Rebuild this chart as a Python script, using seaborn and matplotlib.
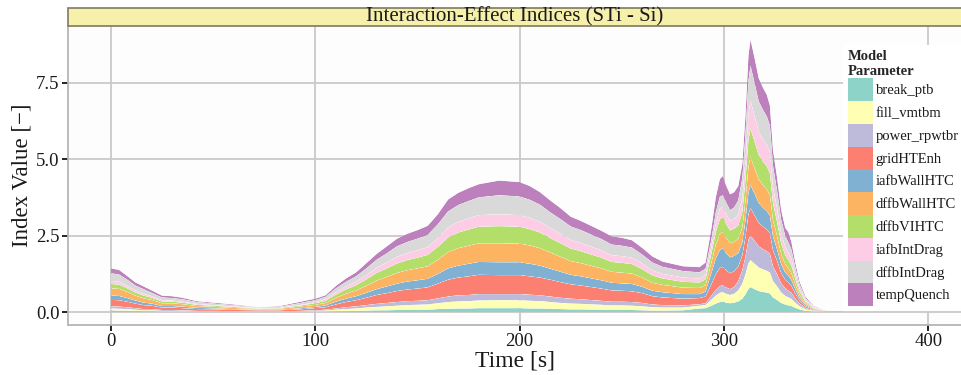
import matplotlib
matplotlib.use("Agg")
import matplotlib.pyplot as plt
from matplotlib.patches import Patch, Rectangle
import pandas as pd
import seaborn as sns
import seaborn.objects as so

# Time axis [s]
time_s = [0, 4, 8, 12, 16, 20, 25, 30, 35, 42,
          52, 62, 72, 82, 92, 100, 105, 110, 115, 120,
          125, 130, 135, 140, 145, 150, 155, 160, 165, 170,
          175, 180, 190, 200, 205, 210, 215, 220, 225, 230,
          240, 245, 250, 255, 260, 265, 270, 280, 288, 291,
          294, 296, 298, 299.5, 301, 303, 305, 307, 309, 310.5,
          312, 313, 315, 317, 319, 321, 322.5, 324, 326, 328,
          330, 331.5, 333, 335, 337, 340, 344, 350, 358]

# Interaction-effect index (STi - Si) per model parameter
break_ptb = [.06, .05, .05, .04, .03, .03, .02, .02, .02, .01,
             .01, .01, .01, .01, .01, .02, .02, .03, .03, .04,
             .05, .06, .06, .07, .08, .08, .08, .10, .11, .12,
             .12, .13, .13, .13, .12, .12, .11, .10, .09, .09,
             .08, .07, .07, .07, .06, .05, .05, .06, .12, .13,
             .21, .28, .33, .34, .31, .29, .31, .35, .44, .58,
             .76, .82, .75, .69, .66, .64, .61, .48, .40, .30,
             .25, .22, .20, .14, .09, .04, .02, .01, .00]
fill_vmtbm = [.06, .06, .05, .04, .03, .03, .02, .02, .02, .01,
              .01, .01, .01, .01, .01, .02, .03, .05, .07, .08,
              .10, .11, .13, .14, .15, .16, .17, .19, .22, .23,
              .24, .25, .26, .26, .25, .24, .22, .20, .19, .18,
              .16, .15, .15, .14, .13, .11, .10, .09, .09, .10,
              .20, .26, .30, .32, .29, .27, .29, .36, .49, .64,
              .84, .88, .83, .77, .74, .71, .68, .53, .44, .34,
              .28, .26, .23, .16, .10, .05, .02, .01, .00]
power_rpwtbr = [.07, .07, .06, .05, .04, .04, .03, .03, .02, .02,
                .02, .01, .01, .01, .02, .02, .03, .04, .06, .07,
                .08, .10, .11, .12, .13, .13, .14, .16, .18, .20,
                .20, .21, .20, .20, .20, .19, .18, .17, .16, .15,
                .13, .12, .12, .12, .11, .09, .08, .07, .05, .06,
                .14, .19, .22, .22, .21, .19, .22, .30, .44, .58,
                .76, .80, .75, .69, .66, .64, .61, .48, .40, .30,
                .25, .22, .20, .14, .09, .05, .02, .00, .00]
gridHTEnh = [.21, .21, .18, .15, .13, .11, .08, .08, .07, .06,
             .05, .04, .03, .03, .05, .07, .08, .13, .17, .20,
             .24, .29, .32, .36, .38, .40, .42, .48, .55, .58,
             .61, .63, .62, .62, .60, .58, .55, .51, .47, .45,
             .40, .37, .36, .35, .32, .27, .25, .22, .20, .22,
             .38, .51, .59, .60, .56, .52, .52, .48, .49, .64,
             .84, .90, .83, .77, .74, .71, .68, .53, .44, .34,
             .28, .27, .23, .16, .10, .05, .02, .01, .01]
iafbWallHTC = [.14, .14, .12, .10, .08, .07, .05, .05, .05, .04,
               .03, .02, .02, .02, .03, .04, .06, .09, .11, .13,
               .16, .19, .22, .24, .26, .27, .28, .32, .37, .39,
               .41, .42, .42, .42, .41, .39, .36, .34, .31, .30,
               .27, .25, .24, .24, .21, .18, .17, .15, .13, .16,
               .38, .51, .59, .61, .56, .52, .50, .44, .41, .54,
               .71, .75, .71, .65, .62, .60, .57, .45, .37, .28,
               .23, .22, .19, .14, .08, .04, .02, .00, .00]
dffbWallHTC = [.24, .23, .20, .16, .14, .12, .09, .09, .08, .06,
               .05, .04, .03, .03, .06, .07, .08, .12, .16, .19,
               .23, .28, .31, .35, .37, .39, .41, .46, .53, .57,
               .59, .61, .62, .61, .60, .57, .53, .49, .45, .43,
               .39, .36, .35, .34, .30, .26, .24, .21, .20, .21,
               .34, .45, .52, .53, .50, .46, .46, .46, .49, .64,
               .84, .92, .83, .77, .74, .71, .68, .53, .44, .34,
               .28, .25, .23, .16, .10, .05, .02, .01, .00]
dffbVIHTC = [.14, .14, .12, .10, .09, .07, .06, .05, .05, .04,
             .03, .03, .01, .02, .03, .05, .07, .11, .14, .17,
             .21, .25, .28, .31, .33, .35, .37, .42, .48, .51,
             .53, .54, .56, .55, .53, .51, .47, .44, .41, .39,
             .35, .32, .32, .31, .27, .24, .21, .19, .18, .19,
             .31, .41, .48, .49, .46, .42, .43, .44, .51, .67,
             .88, .93, .87, .80, .77, .75, .71, .56, .46, .35,
             .29, .26, .24, .17, .11, .05, .02, .00, .00]
iafbIntDrag = [.10, .10, .08, .07, .06, .05, .04, .04, .03, .03,
               .02, .02, .01, .01, .02, .03, .05, .08, .10, .12,
               .14, .17, .19, .22, .23, .24, .25, .29, .33, .35,
               .36, .38, .39, .38, .37, .35, .33, .31, .28, .27,
               .24, .22, .22, .21, .19, .16, .15, .14, .13, .14,
               .22, .30, .35, .33, .33, .31, .32, .36, .48, .64,
               .84, .91, .83, .76, .73, .71, .67, .53, .44, .33,
               .27, .26, .23, .16, .10, .05, .02, .00, .00]
dffbIntDrag = [.25, .23, .20, .16, .15, .11, .09, .08, .08, .06,
               .05, .04, .02, .03, .06, .07, .08, .12, .15, .17,
               .22, .26, .30, .34, .36, .38, .40, .45, .52, .55,
               .57, .58, .62, .61, .59, .56, .51, .48, .44, .42,
               .37, .35, .34, .33, .29, .26, .23, .21, .20, .21,
               .25, .34, .39, .38, .37, .35, .37, .46, .63, .83,
               1.09, 1.14, 1.08, .99, .96, .92, .88, .69, .57, .44,
               .36, .32, .29, .21, .13, .07, .02, .01, .00]
tempQuench = [.16, .15, .12, .10, .09, .08, .06, .06, .05, .03,
              .03, .02, .01, .02, .04, .05, .05, .08, .11, .13,
              .17, .19, .23, .25, .27, .28, .30, .33, .39, .40,
              .42, .43, .48, .47, .45, .41, .39, .36, .32, .30,
              .27, .27, .26, .24, .22, .20, .17, .16, .17, .20,
              .37, .50, .58, .63, .56, .52, .50, .47, .47, .64,
              .84, .85, .82, .76, .73, .71, .66, .52, .44, .33,
              .26, .34, .26, .16, .10, .05, .02, .00, .01]

param_names = ["break_ptb", "fill_vmtbm", "power_rpwtbr", "gridHTEnh",
               "iafbWallHTC", "dffbWallHTC", "dffbVIHTC", "iafbIntDrag",
               "dffbIntDrag", "tempQuench"]
param_values = [break_ptb, fill_vmtbm, power_rpwtbr, gridHTEnh,
                iafbWallHTC, dffbWallHTC, dffbVIHTC, iafbIntDrag,
                dffbIntDrag, tempQuench]

x_ticks = [0, 100, 200, 300, 400]
y_ticks = [0.0, 2.5, 5.0, 7.5]
y_tick_labels = ["0.0", "2.5", "5.0", "7.5"]

palette = sns.color_palette("Set3", 10)

sns.set_theme(style="whitegrid")
SERIF = ["Liberation Serif", "DejaVu Serif"]
plt.rcParams["font.family"] = SERIF

# long-format table, rows ordered bottom layer first for stacking
frames = []
for name, vals in zip(param_names, param_values):
    frames.append(pd.DataFrame({"time": time_s, "value": vals, "parameter": name}))
df = pd.concat(frames, ignore_index=True)

W, H = 962, 375
fig = plt.figure(figsize=(W / 100, H / 100), dpi=100)
fig.patch.set_facecolor("white")

pl, pr, pt, pb = 68, 962, 26, 325
ax = fig.add_axes([pl / W, 1 - pb / H, (pr - pl) / W, (pb - pt) / H])

(
    so.Plot(df, x="time", y="value", color="parameter")
    .add(so.Area(alpha=1, edgewidth=0), so.Stack(), legend=False)
    .scale(color=so.Nominal(palette, order=param_names))
    .on(ax)
    .plot()
)

ax.set_facecolor("#fdfdfd")
ax.set_xlim(-21, 416.5)
ax.set_ylim(-0.42, 9.35)
ax.set_xticks(x_ticks)
ax.set_xticklabels([str(v) for v in x_ticks])
ax.set_yticks(y_ticks)
ax.set_yticklabels(y_tick_labels)
ax.grid(True, which="major", color="#ccc8c8", linewidth=1.3)
ax.set_axisbelow(True)
for side in ("top", "right"):
    ax.spines[side].set_visible(False)
for side in ("left", "bottom"):
    ax.spines[side].set_visible(True)
    ax.spines[side].set_color("#b8b4b4")
    ax.spines[side].set_linewidth(1.3)
ax.tick_params(axis="both", which="major", bottom=True, left=True,
               length=4, width=1.4, color="#222222", labelcolor="#1a1a1a",
               labelsize=13.5, pad=2, labelfontfamily="Liberation Serif")

ax.set_xlabel("Time [s]", fontsize=17, family=SERIF, color="#1a1a1a", labelpad=0)
ax.set_ylabel("Index Value [\u2212]", fontsize=16.5, family=SERIF, color="#1a1a1a", labelpad=3)

# facet strip with title
strip_top = 8
fig.add_artist(Rectangle((pl / W, 1 - pt / H), (pr - pl) / W, (pt - strip_top) / H,
                         transform=fig.transFigure, facecolor="#f6f0aa",
                         edgecolor="#7d7b62", linewidth=1.2, clip_on=False))
fig.text((pl + pr) / 2 / W, 1 - (pt + strip_top) / 2 / H,
         "Interaction-Effect Indices (STi - Si)", ha="center", va="center",
         fontsize=15, family=SERIF, color="#1a1a1a")

handles = [Patch(facecolor=c, edgecolor="none", label=n)
           for n, c in zip(param_names, palette)]
leg = fig.legend(handles=handles, loc="upper left",
                 bbox_to_anchor=(843 / W, 1 - 45 / H),
                 frameon=True, facecolor="white", edgecolor="none",
                 framealpha=1, fancybox=False,
                 prop={"family": SERIF, "size": 10.5},
                 title="Model\nParameter",
                 title_fontproperties={"family": SERIF, "size": 10.5, "weight": "bold"},
                 alignment="left", handlelength=1.7, handleheight=2.03,
                 handletextpad=0.2, labelspacing=0, borderpad=0.35,
                 borderaxespad=0)
for t in leg.get_texts():
    t.set_color("#1a1a1a")

fig.savefig("out.png", dpi=100, facecolor="white")
